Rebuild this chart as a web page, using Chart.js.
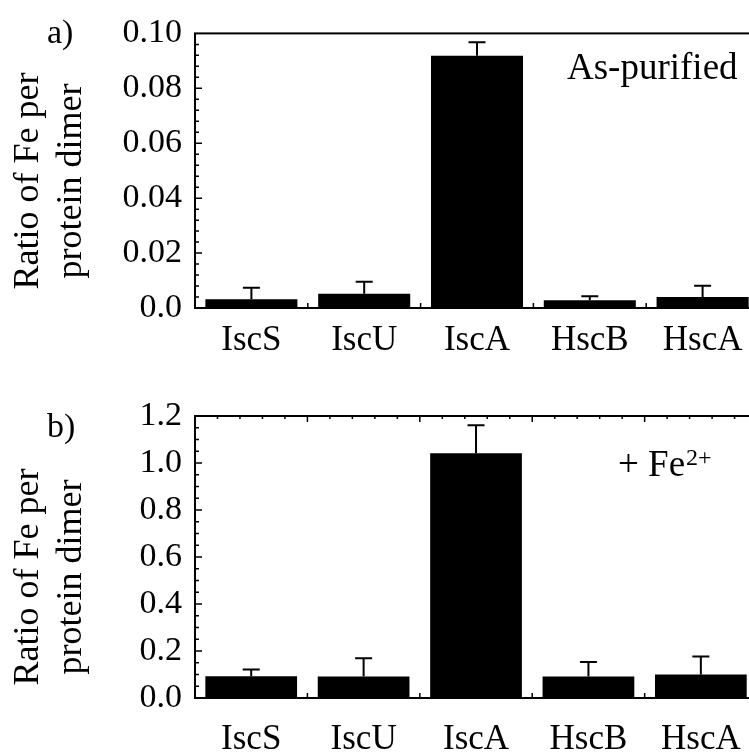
<!DOCTYPE html>
<html>
<head>
<meta charset="utf-8">
<script src="https://cdn.jsdelivr.net/npm/chart.js@4/dist/chart.umd.min.js"></script>
<style>
  html, body { margin: 0; padding: 0; background: #fff; overflow: hidden; }
  #wrap { position: relative; width: 749px; height: 754px; overflow: hidden; }
  canvas { position: absolute; left: 0; }
  #chartA { top: 0; }
  #chartB { top: 377px; }
</style>
</head>
<body>
<div id="wrap">
  <canvas id="chartA" width="762" height="377"></canvas>
  <canvas id="chartB" width="762" height="377"></canvas>
</div>
<script>
const proteins = ['IscS', 'IscU', 'IscA', 'HscB', 'HscA'];

// a) as-purified: Fe per dimer and upper error
const asPurified    = [0.0032, 0.0052, 0.0919, 0.0028, 0.0040];
const asPurifiedErr = [0.0042, 0.0044, 0.0049, 0.0015, 0.0041];

// b) after adding Fe2+
const plusFe    = [0.093, 0.091, 1.041, 0.091, 0.100];
const plusFeErr = [0.028, 0.078, 0.120, 0.062, 0.077];

const yTicksA = ['0.0', '0.02', '0.04', '0.06', '0.08', '0.10'];
const yTicksB = ['0.0', '0.2', '0.4', '0.6', '0.8', '1.0', '1.2'];
const yTitle = ['Ratio of Fe per', 'protein dimer'];

const serif = "'Liberation Serif', 'Times New Roman', serif";
Chart.defaults.font.family = serif;
Chart.defaults.color = '#000';

function makePanel(id, values, errs, p) {
  const errorBars = {
    id: 'errorBars',
    afterDatasetsDraw(chart) {
      const ctx = chart.ctx, y = chart.scales.y;
      const bars = chart.getDatasetMeta(0).data;
      ctx.save();
      ctx.strokeStyle = '#000';
      ctx.lineWidth = 2;
      bars.forEach((bar, i) => {
        const top = y.getPixelForValue(values[i] + errs[i]);
        ctx.beginPath();
        ctx.moveTo(bar.x, bar.y);
        ctx.lineTo(bar.x, top);
        ctx.moveTo(bar.x - 8.5, top);
        ctx.lineTo(bar.x + 8.5, top);
        ctx.stroke();
      });
      ctx.restore();
    }
  };

  // box round the plot with inward ticks
  const frame = {
    id: 'frame',
    afterDraw(chart) {
      const { ctx, chartArea: a, scales: { x, y } } = chart;
      ctx.save();
      ctx.strokeStyle = '#000';
      ctx.lineWidth = 2;
      ctx.strokeRect(a.left, a.top, a.width, a.height);
      ctx.lineWidth = 1.5;
      ctx.beginPath();
      const n = (p.labels.length - 1) * (p.minor + 1);
      for (let k = 1; k < n; k++) {
        const py = y.getPixelForValue(p.max * k / n);
        const len = k % (p.minor + 1) === 0 ? 7 : 4;
        ctx.moveTo(a.left, py);
        ctx.lineTo(a.left + len, py);
      }
      const cw = x.getPixelForValue(1) - x.getPixelForValue(0);
      for (let i = 1; i < proteins.length; i++) {
        const px = x.getPixelForValue(i) - cw / 2;
        ctx.moveTo(px, a.bottom);
        ctx.lineTo(px, a.bottom - 5);
      }
      if (p.topTicks) {
        for (let k = 1; k < proteins.length * 5; k++) {
          const px = a.left + k * cw / 5;
          ctx.moveTo(px, a.top);
          ctx.lineTo(px, a.top + (k % 5 === 0 ? 6 : 3));
        }
      }
      ctx.stroke();
      ctx.restore();
    }
  };

  const notes = {
    id: 'notes',
    afterDraw(chart) {
      const ctx = chart.ctx;
      ctx.save();
      ctx.fillStyle = '#000';
      ctx.textBaseline = 'alphabetic';

      // y title, two rotated lines
      ctx.save();
      ctx.translate(38, p.titleY);
      ctx.rotate(-Math.PI / 2);
      ctx.textAlign = 'center';
      ctx.font = '36px ' + serif;
      ctx.fillText(yTitle[0], 0, 0);
      ctx.fillText(yTitle[1], 0, 43);
      ctx.restore();

      ctx.textAlign = 'left';
      ctx.font = '34px ' + serif;
      ctx.fillText(p.letter, 47, p.letterY);

      ctx.font = '37px ' + serif;
      ctx.fillText(p.note, p.noteX, p.noteY);
      if (p.sup) {
        const w = ctx.measureText(p.note).width;
        ctx.font = '24px ' + serif;
        ctx.fillText(p.sup, p.noteX + w + 1, p.noteY - 11);
      }
      ctx.restore();
    }
  };

  return new Chart(document.getElementById(id), {
    type: 'bar',
    data: {
      labels: proteins,
      datasets: [{
        data: values,
        backgroundColor: '#000',
        borderWidth: 0,
        categoryPercentage: 1,
        barPercentage: 0.816
      }]
    },
    options: {
      responsive: false,
      animation: false,
      devicePixelRatio: 1,
      layout: { padding: { top: p.top, right: 3, left: 0, bottom: 0 } },
      plugins: { legend: { display: false }, tooltip: { enabled: false } },
      scales: {
        x: {
          grid: { display: false, drawTicks: false },
          border: { display: false },
          ticks: { padding: p.xPad, font: { size: 35 }, color: '#000' },
          afterFit: (s) => { s.height = p.xHeight; }
        },
        y: {
          min: 0,
          max: p.max,
          grid: { display: false, drawTicks: false },
          border: { display: false },
          ticks: {
            stepSize: p.step,
            padding: 13,
            font: { size: 34 },
            color: '#000',
            callback: (v, i) => p.labels[i]
          },
          afterFit: (s) => { s.width = 195; }
        }
      }
    },
    plugins: [errorBars, frame, notes]
  });
}

makePanel('chartA', asPurified, asPurifiedErr, {
  max: 0.1, step: 0.02, minor: 4, labels: yTicksA,
  top: 27, xHeight: 69, xPad: 12, topTicks: false,
  titleY: 181, letter: 'a)', letterY: 43,
  note: 'As-purified', noteX: 567, noteY: 79
});

makePanel('chartB', plusFe, plusFeErr, {
  max: 1.2, step: 0.2, minor: 3, labels: yTicksB,
  top: 39, xHeight: 56, xPad: 21, topTicks: true,
  titleY: 200, letter: 'b)', letterY: 60,
  note: '+ Fe', sup: '2+', noteX: 618, noteY: 99
});
</script>
</body>
</html>
